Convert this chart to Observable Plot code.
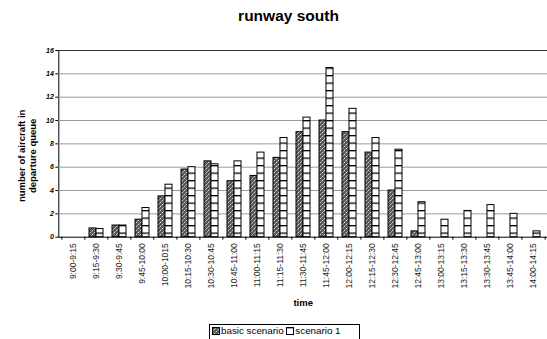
<!DOCTYPE html>
<html>
<head>
<meta charset="utf-8">
<script src="https://cdn.jsdelivr.net/npm/d3@7"></script>
<script src="https://cdn.jsdelivr.net/npm/@observablehq/plot@0.6"></script>
<style>
  html, body { margin: 0; padding: 0; background: #fff; }
  body {
    width: 547px; height: 339px; overflow: hidden; position: relative;
    font-family: "Liberation Sans", Arial, sans-serif; color: #000;
  }
  #title {
    position: absolute; left: 15px; top: 0; width: 547px; height: 32px;
    text-align: center; font-weight: bold; font-size: 15.5px; line-height: 31px;
  }
  #chart { position: absolute; left: 0; top: 30px; }
  #legend {
    position: absolute; left: 209px; top: 324px; width: 151px; height: 18px;
    box-sizing: border-box; border: 1px solid #000; border-bottom: none;
    padding-left: 2px; font-size: 9.8px; line-height: 12px; white-space: nowrap;
  }
  #legend svg { display: inline-block; vertical-align: -1px; margin-right: 1px; }
</style>
</head>
<body>
<div id="title">runway south</div>
<div id="chart"></div>
<div id="legend"></div>
<script>
// Quarter-hour departure slots
const categories = [
  "9:00-9:15", "9:15-9:30", "9:30-9:45", "9:45-10:00", "10:00-1015",
  "10:15-10:30", "10:30-10:45", "10:45-11:00", "11:00-11:15", "11:15-11:30",
  "11:30-11:45", "11:45-12:00", "12:00-12:15", "12:15-12:30", "12:30-12:45",
  "12:45-13:00", "13:00-13:15", "13:15-13:30", "13:30-13:45", "13:45-14:00",
  "14:00-14:15"
];
// Aircraft waiting in the departure queue, per slot
const basicScenario = [0, 0.75, 1, 1.5, 3.5, 5.8, 6.5, 4.8, 5.25, 6.8, 9, 10, 9, 7.25, 4, 0.5, 0, 0, 0, 0, 0];
const scenario1 = [0, 0.7, 1, 2.5, 4.5, 6, 6.25, 6.5, 7.25, 8.5, 10.25, 14.5, 11, 8.5, 7.5, 3, 1.5, 2.25, 2.75, 2, 0.5];
const seriesNames = ["basic scenario", "scenario 1"];
const yTicks = [0, 2, 4, 6, 8, 10, 12, 14, 16];

const rows = categories.map((time, i) => ({time, basic: basicScenario[i], s1: scenario1[i]}));

const W = 547, H = 284;
const ML = 58.3, MR = 0, MT = 20, MB = 77.3;
const step = (W - ML - MR) / categories.length;
const half = step * 0.6 / 2; // each series takes half of the group band

const patterns = `
  <pattern id="pat-basic" width="4" height="4" patternUnits="userSpaceOnUse">
    <rect width="4" height="4" fill="#585858"/>
    <rect x="0" y="0" width="1" height="1" fill="#d6d6d6"/>
    <rect x="2" y="2" width="1" height="1" fill="#d6d6d6"/>
    <rect x="1" y="3" width="1" height="1" fill="#999"/>
    <rect x="3" y="1" width="1" height="1" fill="#999"/>
  </pattern>
  <pattern id="pat-s1" width="8" height="7.5" patternUnits="userSpaceOnUse">
    <rect width="8" height="7.5" fill="#fff"/>
    <rect x="0" y="0" width="8" height="1.3" fill="#000"/>
  </pattern>`;

const chart = Plot.plot({
  width: W, height: H,
  marginLeft: ML, marginRight: MR, marginTop: MT, marginBottom: MB,
  style: {fontFamily: "'Liberation Sans', Arial, sans-serif", fontSize: "8.5px", color: "#000", background: "transparent", overflow: "visible"},
  x: {domain: categories, paddingInner: 0.4, paddingOuter: 0.2, label: null, tickSize: 0, tickPadding: 6, tickRotate: -90},
  y: {domain: [0, 16], ticks: yTicks, tickSize: 3, tickPadding: 2, label: null, line: true},
  marks: [
    Plot.ruleY(yTicks.filter(v => v > 0 && v < 16), {stroke: "#9a9a9a"}),
    Plot.ruleY([16], {stroke: "#333"}),
    Plot.barY(rows, {x: "time", y: "basic", fill: "url(#pat-basic)", stroke: "#000", strokeWidth: 1, insetRight: half}),
    Plot.barY(rows, {x: "time", y: "s1", fill: "url(#pat-s1)", stroke: "#000", strokeWidth: 1, insetLeft: half}),
    Plot.ruleY([0], {stroke: "#000"}),
    // tick marks on the category boundaries
    Plot.ruleX(categories, {x: d => d, y1: 0, y2: 0, insetBottom: -3, dx: -step / 2, stroke: "#000"}),
    Plot.ruleX(categories.slice(-1), {x: d => d, y1: 0, y2: 0, insetBottom: -3, dx: step / 2, stroke: "#000"}),
    Plot.text(["number of aircraft in\ndeparture queue"], {
      text: d => d, frameAnchor: "left", textAnchor: "middle", dx: -31.8, dy: 12, rotate: -90,
      fontWeight: "bold", fontSize: 9.5, lineHeight: 1.15, fill: "#000"
    }),
    Plot.text(["time"], {text: d => d, frameAnchor: "bottom", dy: 68.3, fontWeight: "bold", fontSize: 9.5, fill: "#000"})
  ]
});

d3.select(chart).insert("defs", ":first-child").html(patterns);
d3.select(chart).selectAll('[aria-label^="y-axis"] text')
  .attr("font-weight", "bold").attr("font-style", "italic").attr("font-size", 7);
d3.select(chart).selectAll('[aria-label^="x-axis"]')
  .attr("opacity", 0.99).selectAll("text").attr("fill", "#222");
document.getElementById("chart").appendChild(chart);

// Legend: pattern swatch followed by the series name
const swatchFills = ["url(#pat-basic)", "url(#pat-s1)"];
const legend = d3.select("#legend");
seriesNames.forEach((name, i) => {
  legend.append("svg").attr("width", 8).attr("height", 8)
    .append("rect").attr("x", 0.5).attr("y", 0.5).attr("width", 7).attr("height", 7)
    .attr("fill", swatchFills[i]).attr("stroke", "#000");
  legend.append("span").text(name + (i < seriesNames.length - 1 ? " " : ""));
});
</script>
</body>
</html>
